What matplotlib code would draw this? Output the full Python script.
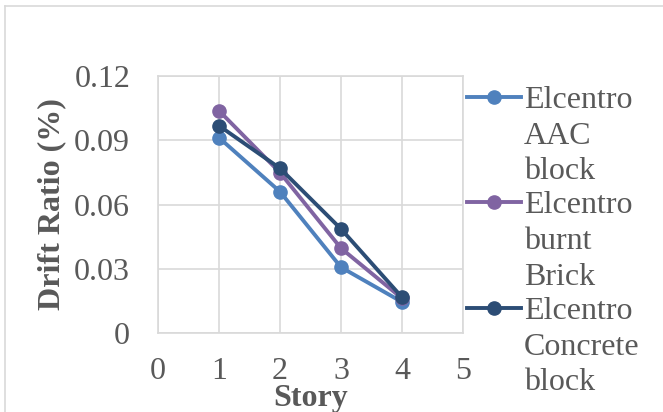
import matplotlib
matplotlib.use('Agg')
import matplotlib.pyplot as plt
from matplotlib.lines import Line2D

# data
stories = [1, 2, 3, 4]
aac_block = [0.0912, 0.0660, 0.0307, 0.0145]
burnt_brick = [0.1038, 0.0749, 0.0396, 0.0162]
concrete_block = [0.0968, 0.0769, 0.0486, 0.0167]
labels = ['Elcentro\nAAC\nblock', 'Elcentro\nburnt\nBrick', 'Elcentro\nConcrete\nblock']
colors = ['#4F81BD', '#8064A2', '#2C4D75']
x_ticks = [0, 1, 2, 3, 4, 5]
y_ticks = [0, 0.03, 0.06, 0.09, 0.12]
y_tick_labels = ['0', '0.03', '0.06', '0.09', '0.12']

txt = '#595959'
grid = '#D9D9D9'
plt.rcParams['font.family'] = ['Liberation Serif', 'DejaVu Serif']

fig = plt.figure(figsize=(6.63, 4.12), dpi=100)
ax = fig.add_axes([0.2383, 0.1917, 0.46, 0.6238])

series = [aac_block, burnt_brick, concrete_block]
for vals, c in zip(series, colors):
    ax.plot(stories, vals, color=c, lw=2.8, marker='o', ms=9.5, zorder=3, clip_on=False)

ax.set_xlim(0, 5)
ax.set_ylim(0, 0.12)
ax.set_xticks(x_ticks)
ax.set_yticks(y_ticks)
ax.set_yticklabels(y_tick_labels)
ax.grid(True, color=grid, lw=1.2)
ax.set_axisbelow(True)
for s in ax.spines.values():
    s.set_color(grid)
    s.set_linewidth(1.2)
ax.tick_params(length=0, labelsize=23, colors=txt)
ax.tick_params(axis='x', pad=17)
ax.tick_params(axis='y', pad=20)

ax.set_xlabel('Story', fontsize=23, fontweight='bold', color=txt, labelpad=-1)
ax.set_ylabel('Drift Ratio (%)', fontsize=23, fontweight='bold', color=txt, labelpad=6)

# legend on the right, handle sits at the first text line
W, H = 663.0, 412.0
for i, (lab, c) in enumerate(zip(labels, colors)):
    yy = 1 - (97 + i * 105.5) / H
    fig.add_artist(Line2D([467 / W, 521 / W], [yy, yy], color=c, lw=2.8,
                          transform=fig.transFigure))
    fig.add_artist(Line2D([494 / W], [yy], color=c, marker='o', ms=9.5,
                          transform=fig.transFigure))
    fig.text(524 / W, yy + 11 / H, lab, fontsize=23, color=txt, va='top', ha='left',
             linespacing=1.3)

# chart frame (left and top edges visible)
fig.add_artist(Line2D([5 / W, 5 / W], [0, 1 - 6 / H], color=grid, lw=1.2,
                      transform=fig.transFigure))
fig.add_artist(Line2D([5 / W, 1], [1 - 6 / H, 1 - 6 / H], color=grid, lw=1.2,
                      transform=fig.transFigure))

fig.savefig('out.png', dpi=100)
